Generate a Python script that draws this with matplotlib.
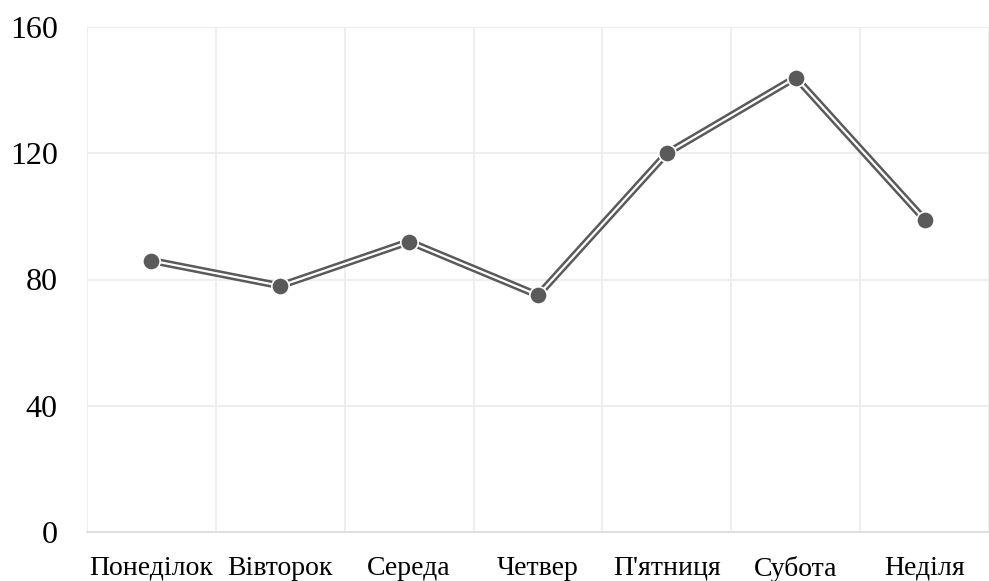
import matplotlib.pyplot as plt
import numpy as np

days = ["Понеділок", "Вівторок", "Середа", "Четвер", "П'ятниця", "Субота", "Неділя"]
visits = [86, 78, 92, 75, 120, 144, 99]
yticks = [0, 40, 80, 120, 160]

plt.rcParams['font.family'] = ['Liberation Serif', 'DejaVu Serif']

fig = plt.figure(figsize=(9.89, 5.81), dpi=100)
ax = fig.add_axes([87/989, 49/581, 902/989, 505/581])

x = np.arange(len(days))
grey = "#5a5a5a"

# double line: thick grey with thin white core
ax.plot(x, visits, color=grey, lw=5.2, solid_capstyle='round', zorder=3)
ax.plot(x, visits, color="white", lw=1.6, solid_capstyle='round', zorder=4)
ax.plot(x, visits, ls='none', marker='o', ms=12.5, mfc=grey, mec='white', mew=1.2, zorder=5)

ax.set_xlim(-0.5, len(days) - 0.5)
ax.set_ylim(0, 160)
ax.set_yticks(yticks)
ax.set_xticks(x)
ax.set_xticklabels(days)

# gridlines between categories
for b in np.arange(-0.5, len(days), 1.0):
    ax.axvline(b, color="#ebebeb", lw=1.2, zorder=1)
for t in yticks[1:]:
    ax.axhline(t, color="#ebebeb", lw=1.2, zorder=1)

for s in ['top', 'right', 'left']:
    ax.spines[s].set_visible(False)
ax.spines['bottom'].set_color("#d9d9d9")
ax.spines['bottom'].set_linewidth(1.2)

ax.tick_params(axis='both', length=0, colors='black')
ax.tick_params(axis='y', labelsize=23, pad=21)
ax.tick_params(axis='x', labelsize=20, pad=17)

fig.savefig("out.png", dpi=100)
